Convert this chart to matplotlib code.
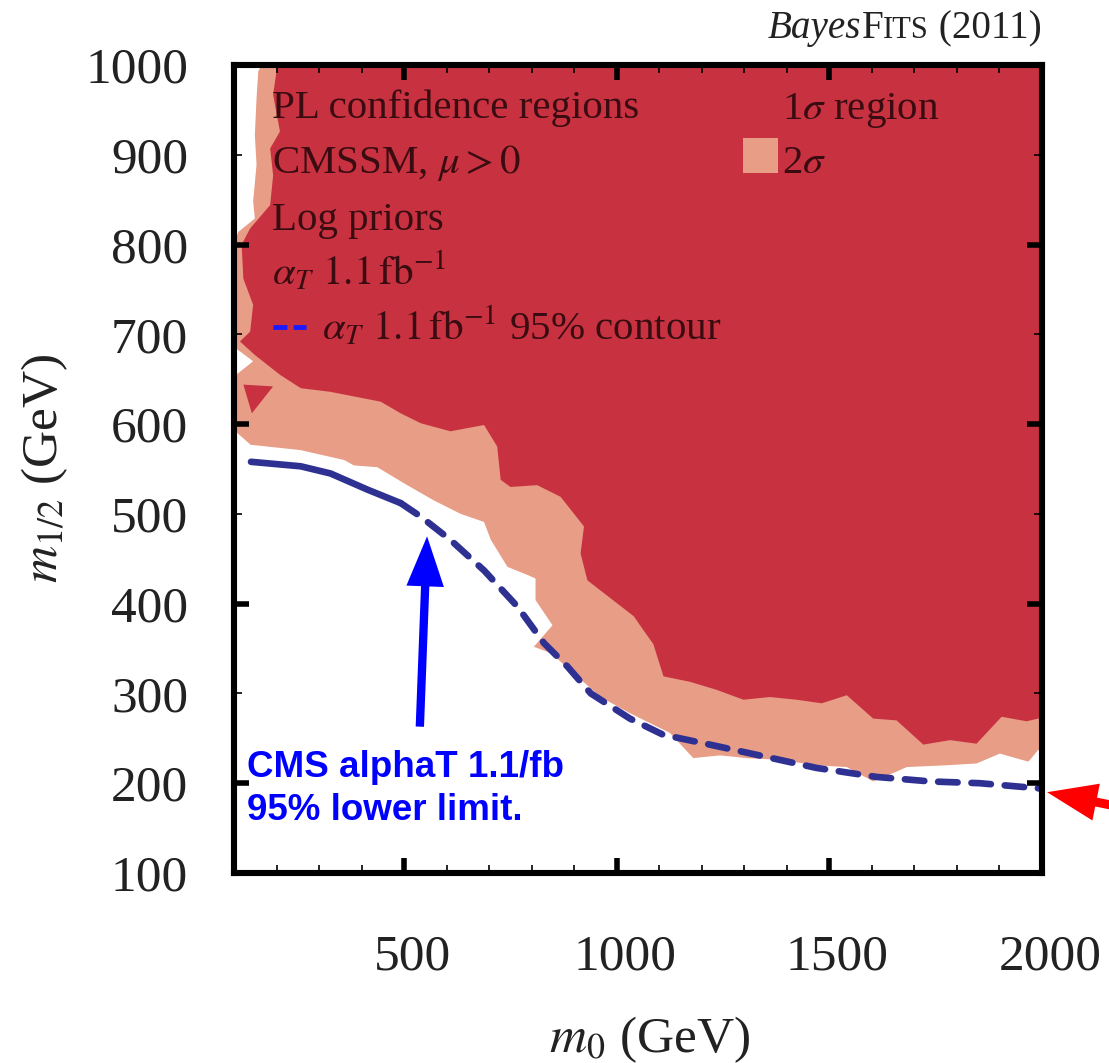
import matplotlib
matplotlib.use('Agg')
import matplotlib.pyplot as plt
from matplotlib.patches import Polygon, Rectangle
from matplotlib.lines import Line2D
from matplotlib.transforms import ScaledTranslation
import numpy as np

W, H = 1109, 1063
plt.rcParams['font.family'] = ['Liberation Serif', 'DejaVu Serif']
plt.rcParams['mathtext.fontset'] = 'stix'
plt.rcParams['lines.scale_dashes'] = False

# ---------------- data (m0, m1/2 in GeV) ----------------
# 2 sigma (outer) region boundary
sigma2_m0 = [165, 2000, 2000, 1991, 1968, 1901, 1846, 1776, 1682, 1658, 1603, 1541,
             1470, 1384, 1305, 1243, 1180, 1125, 1031, 962, 845, 805, 849, 809, 809,
             790, 743, 704, 688, 633, 570, 500, 437, 382, 359, 257, 139, 108, 100,
             100, 145, 100, 100, 110, 149, 145, 153, 149, 153, 157]
sigma2_m12 = [1000, 1000, 237, 237, 224, 233, 222, 220, 218, 213, 202, 218,
              220, 226, 228, 231, 228, 256, 278, 296, 345, 352, 376, 404, 428,
              432, 441, 471, 491, 500, 515, 534, 552, 554, 560, 571, 577, 590, 595,
              653, 670, 686, 800, 814, 829, 848, 889, 922, 963, 993]

# 1 sigma (inner) region boundary
sigma1_m0 = [200, 2000, 2000, 1991, 1964, 1905, 1846, 1784, 1721, 1658, 1603, 1541,
             1482, 1423, 1360, 1298, 1235, 1172, 1110, 1086, 1062, 1040, 931, 915,
             923, 868, 813, 750, 727, 719, 688, 609, 539, 492, 445, 326, 257, 208,
             149, 114, 138, 145, 122, 118, 138, 185, 192, 185, 208, 192, 200]
sigma1_m12 = [1000, 1000, 272, 272, 269, 274, 244, 248, 243, 270, 272, 298,
              289, 293, 296, 293, 304, 313, 319, 355, 371, 386, 426, 456,
              486, 519, 532, 530, 538, 575, 599, 592, 601, 612, 625, 636, 640, 655,
              677, 692, 703, 733, 762, 800, 818, 844, 877, 907, 926, 967, 993]

# small 1 sigma island
island_m0 = [122, 192, 142]
island_m12 = [644, 642, 612]

# CMS alphaT 1.1/fb 95% contour
cms_m0 = [140, 257, 327, 414, 492, 539, 609, 688, 766, 829, 884, 939, 1031,
          1109, 1219, 1345, 1470, 1611, 1737, 1854, 2000]
cms_m12 = [558, 553, 545, 527, 512, 497, 471, 437, 397, 356, 330, 300, 272,
           254, 243, 230, 217, 207, 202, 200, 194]

x_major = [500, 1000, 1500, 2000]
x_major_labels = ['500', '1000', '1500', '2000']
x_minor = [200, 300, 400, 600, 700, 800, 900, 1100, 1200, 1300, 1400, 1600, 1700, 1800, 1900]
y_major = [200, 400, 600, 800, 1000]
y_minor = [100, 300, 500, 700, 900]

RED = '#C83240'
SALMON = '#E89D87'
NAVY = '#2E3192'
TXT = '#3a0c12'


def fx(px):
    return px / W


def fy(py):
    return 1 - py / H


fig = plt.figure(figsize=(W / 100, H / 100), dpi=100)
ax = fig.add_axes([fx(234), fy(873), (1042 - 234) / W, (873 - 65) / H])
ax.set_xlim(100, 2000)
ax.set_ylim(100, 1000)

ax.add_patch(Polygon(np.column_stack([sigma2_m0, sigma2_m12]), closed=True,
                     fc=SALMON, ec='none', zorder=1))
ax.add_patch(Polygon(np.column_stack([sigma1_m0, sigma1_m12]), closed=True,
                     fc=RED, ec='none', zorder=1.1))
ax.add_patch(Polygon(np.column_stack([island_m0, island_m12]), closed=True,
                     fc=RED, ec='none', zorder=1.1))

ax.plot(cms_m0[:5], cms_m12[:5], color=NAVY, lw=4.8, solid_capstyle='round', zorder=2)
ax.plot(cms_m0[4:], cms_m12[4:], color=NAVY, lw=4.8, dashes=(14, 10),
        dash_capstyle='round', zorder=2)

# ticks
ax.set_xticks(x_major)
ax.set_xticklabels(x_major_labels)
ax.set_xticks(x_minor, minor=True)
ax.set_yticks(y_major)
ax.set_yticklabels([str(v) for v in y_major])
ax.set_yticks(y_minor, minor=True)
ax.set_yticklabels([str(v) for v in y_minor], minor=True)
ax.tick_params(which='both', direction='in', top=True, right=True, labelsize=37,
               colors='black', labelcolor='#222222')
ax.tick_params(which='major', length=11, width=4)
ax.tick_params(which='minor', length=5.5, width=1.2)
ax.tick_params(axis='x', which='both', pad=44)
ax.tick_params(axis='y', which='both', pad=33)
for s in ax.spines.values():
    s.set_linewidth(4.4)
ax.set_axisbelow(False)
shift = ScaledTranslation(0.08, 0, fig.dpi_scale_trans)
for lab in ax.xaxis.get_majorticklabels():
    lab.set_transform(lab.get_transform() + shift)

# axis labels
fig.text(fx(650), fy(1052), r'$m_0$ (GeV)', fontsize=37, ha='center', va='baseline',
         color='#222222')
fig.text(fx(45), fy(468), r'$m_{1/2}$ (GeV)', fontsize=37, ha='center', va='center',
         rotation=90, color='#222222')

# legend block
fs = 29.5
fig.text(fx(272), fy(118), 'PL confidence regions', fontsize=fs, color=TXT, va='baseline')
fig.text(fx(272), fy(173), r'CMSSM, $\mu > 0$', fontsize=fs, color=TXT, va='baseline')
fig.text(fx(272), fy(230), 'Log priors', fontsize=fs, color=TXT, va='baseline')
fig.text(fx(272), fy(285), r'$\alpha_T\ 1.1\,\mathrm{fb}^{-1}$', fontsize=fs, color=TXT,
         va='baseline')
fig.add_artist(Line2D([fx(273), fx(306)], [fy(327), fy(327)], color='#1a1aff', lw=3.5,
                      dashes=(10, 4.5), transform=fig.transFigure))
fig.text(fx(322), fy(340), r'$\alpha_T\ 1.1\,\mathrm{fb}^{-1}$ 95% contour', fontsize=fs,
         color=TXT, va='baseline')
fig.text(fx(782), fy(119), r'1$\sigma$ region', fontsize=fs, color=TXT, va='baseline')
fig.text(fx(782), fy(173), r'2$\sigma$', fontsize=fs, color=TXT, va='baseline')
fig.add_artist(Rectangle((fx(743), fy(120)), 35 / W, 35 / H, transform=fig.transFigure,
                         fc=RED, ec='none'))
fig.add_artist(Rectangle((fx(743), fy(173)), 35 / W, 35 / H, transform=fig.transFigure,
                         fc=SALMON, ec='none'))

# BayesFITS (2011)
renderer = fig.canvas.get_renderer()
x0 = 768
for s, size, style in [('Bayes', 28.2, 'italic'), ('F', 28.2, 'normal'),
                       ('ITS', 22, 'normal'), (' (2011)', 28.2, 'normal')]:
    t = fig.text(fx(x0), fy(38), s, fontsize=size, style=style, ha='left',
                 va='baseline', color='#222222')
    x0 += t.get_window_extent(renderer).width

# annotations
ann_font = dict(family=['Liberation Sans', 'DejaVu Sans'], weight='bold', color='#0000FF',
                fontsize=26.5)
fig.text(fx(247), fy(777), 'CMS alphaT 1.1/fb', va='baseline', ha='left', **ann_font)
fig.text(fx(247), fy(820), '95% lower limit.', va='baseline', ha='left', **ann_font)

ax.annotate('', xy=(554, 475), xytext=(537, 263),
            arrowprops=dict(facecolor='#0000FF', edgecolor='none', width=6,
                            headwidth=27, headlength=36), zorder=5)
ax.annotate('', xy=(2012, 190), xytext=(1200, H - 823), textcoords='figure pixels',
            arrowprops=dict(facecolor='#FF0000', edgecolor='none', width=6.5,
                            headwidth=27, headlength=36), annotation_clip=False, zorder=5)

fig.savefig('out.png', dpi=100)
